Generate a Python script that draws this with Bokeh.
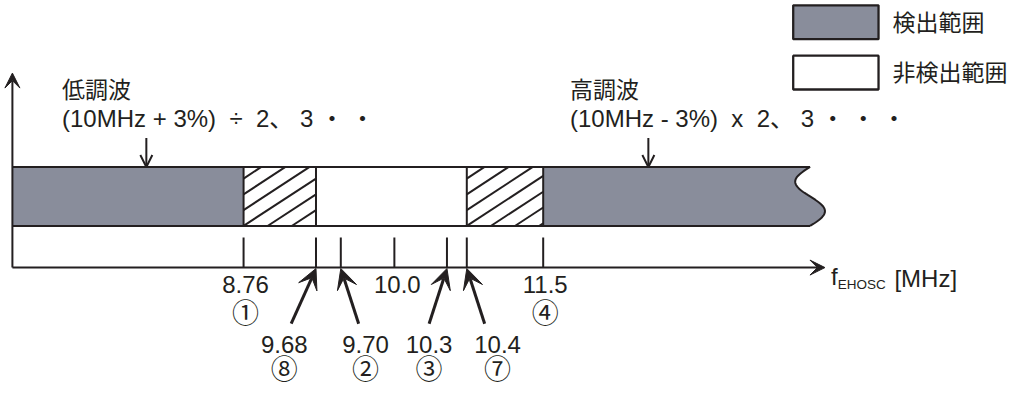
import numpy as np
from bokeh.plotting import figure
from bokeh.models import Range1d, Arrow, VeeHead, OpenHead
from bokeh.core.properties import value
from bokeh.embed import file_html
from bokeh.resources import INLINE

# ---------------- data ----------------
freqs = [8.76, 9.68, 9.70, 10.0, 10.3, 10.4, 11.5]
freq_labels = ["8.76", "9.68", "9.70", "10.0", "10.3", "10.4", "11.5"]
circled = ["①", "⑧", "②", "", "③", "⑦", "④"]
callout = [False, True, True, False, True, True, False]

# bands along the frequency axis (None = open end of the schematic bar)
band_start = [None, 8.76, 9.68, 10.4, 11.5]
band_end = [8.76, 9.68, 10.4, 11.5, None]
band_kind = ["detect", "hatch", "nondetect", "hatch", "detect"]

legend_labels = ["検出範囲", "非検出範囲"]
low_title = "低調波"
low_formula = "(10MHz + 3%) \u00a0÷\u00a0 2、 3 ・ ・"
high_title = "高調波"
high_formula = "(10MHz - 3%)\u00a0 x\u00a0 2、 3 ・ ・ ・"
axis_f, axis_sub, axis_unit = "f", "EHOSC", "[MHz]"

# ---------------- layout (schematic, not to scale) ----------------
tick_px = [251, 324, 349, 403, 456, 476, 553]   # schematic position of each frequency
def sx(f):
    return float(np.interp(f, freqs, tick_px))

X0, XEND, XARROW = 18, 822, 837
BAR_TOP, BAR_BOT = 180, 241
AXIS_Y, YARROW = 284, 83
TICK_TOP = 253
base_dx = [0, -25, 18, 0, -18, 18, 0]
label_dx = [2, -32, 25, 3, -18, 31, 2]

INK = "#231f20"
GREY = "#898d9b"
FONT = value("Liberation Sans, Noto Sans CJK JP")
FS = "24px"
FS_CJK = "23px"
FS_CIRC = "27px"

p = figure(width=1008, height=389, output_backend="svg", toolbar_location=None,
           x_range=Range1d(6, 1022), y_range=Range1d(410, 8),
           x_axis_type=None, y_axis_type=None, min_border=0,
           outline_line_color=None, background_fill_color="white")
p.grid.visible = False

def band_x(i):
    a = X0 if band_start[i] is None else sx(band_start[i])
    b = XEND if band_end[i] is None else sx(band_end[i])
    return a, b

# wavy right end
t = np.linspace(0, 1, 60)
wave_y = BAR_TOP + (BAR_BOT - BAR_TOP) * t
wave_x = XEND - 15 * np.sin(2 * np.pi * t)

for i, kind in enumerate(band_kind):
    a, b = band_x(i)
    fill = GREY if kind == "detect" else "white"
    if band_end[i] is None:
        xs = [a] + list(wave_x) + [a]
        ys = [BAR_TOP] + list(wave_y) + [BAR_BOT]
        p.patch(xs, ys, fill_color=fill, line_color=None)
    else:
        p.quad(left=a, right=b, top=BAR_TOP, bottom=BAR_BOT, fill_color=fill, line_color=None)
    if kind == "hatch":
        m = 0.67
        x0s, y0s, x1s, y1s = [], [], [], []
        for k in range(10):
            y0 = 192 + 16.3 * k
            xs_ = a + max(0.0, (y0 - BAR_BOT) / m)
            xe_ = min(b, a + (y0 - BAR_TOP) / m)
            if xe_ > xs_ + 0.5:
                x0s.append(xs_); y0s.append(y0 - m * (xs_ - a))
                x1s.append(xe_); y1s.append(y0 - m * (xe_ - a))
        p.segment(x0s, y0s, x1s, y1s, line_color=INK, line_width=2)

# bar outline
p.segment([X0, X0], [BAR_TOP, BAR_BOT], [XEND, XEND], [BAR_TOP, BAR_BOT], line_color=INK, line_width=2)
p.line(wave_x, wave_y, line_color=INK, line_width=2)
edges = sorted(set([sx(v) for v in band_start if v is not None] + [sx(v) for v in band_end if v is not None]))
p.segment(edges, [BAR_TOP] * len(edges), edges, [BAR_BOT] * len(edges), line_color=INK, line_width=2)

# axes
p.add_layout(Arrow(x_start=X0, y_start=AXIS_Y, x_end=X0, y_end=YARROW, line_color=INK, line_width=2,
                   end=VeeHead(size=15, fill_color=INK, line_color=INK, line_width=1)))
p.add_layout(Arrow(x_start=X0, y_start=AXIS_Y, x_end=XARROW, y_end=AXIS_Y, line_color=INK, line_width=2,
                   end=VeeHead(size=15, fill_color=INK, line_color=INK, line_width=1)))

# ticks
txs = [sx(f) for f in freqs]
p.segment(txs, [TICK_TOP] * len(txs), txs, [AXIS_Y] * len(txs), line_color=INK, line_width=2)

# tick labels
for i, f in enumerate(freqs):
    x = sx(f)
    if callout[i]:
        bx = x + base_dx[i]
        p.add_layout(Arrow(x_start=bx, y_start=342, x_end=x, y_end=AXIS_Y + 1, line_color=INK, line_width=3,
                           end=VeeHead(size=20, fill_color=INK, line_color=INK, line_width=1)))
        ly, cy = 364, 390
    else:
        ly, cy = 302, 332
    lx = x + label_dx[i]
    p.text([lx], [ly], text=[freq_labels[i]], text_font=FONT, text_font_size=FS,
           text_align="center", text_baseline="middle", text_color=INK)
    if circled[i]:
        p.text([lx], [cy], text=[circled[i]], text_font=FONT, text_font_size=FS_CIRC,
               text_align="center", text_baseline="middle", text_color=INK)

# harmonic annotations
for tx, title, formula, ax in [(68, low_title, low_formula, 153), (580, high_title, high_formula, 659)]:
    p.text([tx], [100], text=[title], text_font=FONT, text_font_size=FS_CJK,
           text_align="left", text_baseline="middle", text_color=INK)
    p.text([tx], [130], text=[formula], text_font=FONT, text_font_size=FS,
           text_align="left", text_baseline="middle", text_color=INK)
    p.add_layout(Arrow(x_start=ax, y_start=150, x_end=ax, y_end=BAR_TOP, line_color=INK, line_width=2,
                       end=OpenHead(size=12, line_color=INK, line_width=2)))

# axis label
p.text([843], [293], text=[axis_f], text_font=FONT, text_font_size=FS,
       text_align="left", text_baseline="middle", text_color=INK)
p.text([850], [302], text=[axis_sub], text_font=FONT, text_font_size="13.5px",
       text_align="left", text_baseline="middle", text_color=INK)
p.text([907], [295], text=[axis_unit], text_font=FONT, text_font_size=FS,
       text_align="left", text_baseline="middle", text_color=INK)

# legend
leg_fill = [GREY, "white"]
leg_top = [13, 65]
for i, lab in enumerate(legend_labels):
    p.quad(left=805, right=891, top=leg_top[i], bottom=leg_top[i] + 35,
           fill_color=leg_fill[i], line_color=INK, line_width=2.3)
    p.text([905], [leg_top[i] + 18], text=[lab], text_font=FONT, text_font_size=FS_CJK,
           text_align="left", text_baseline="middle", text_color=INK)

open("out.html", "w").write(file_html(p, INLINE))
